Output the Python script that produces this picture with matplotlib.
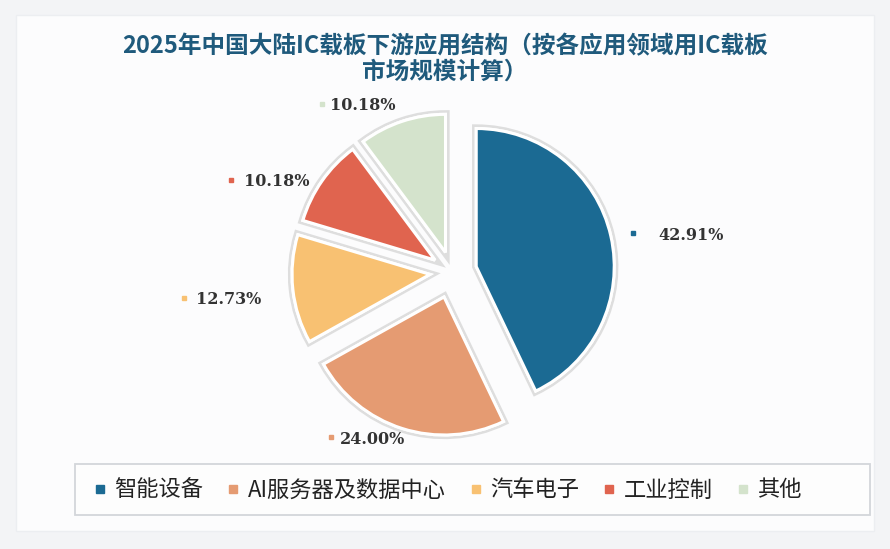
import matplotlib
matplotlib.use('Agg')
import matplotlib.pyplot as plt
from matplotlib import patheffects
from matplotlib.lines import Line2D
from matplotlib.patches import Rectangle
import numpy as np

plt.rcParams['font.family'] = ['Noto Sans CJK SC', 'DejaVu Sans']

# 数据
categories = ['智能设备', 'AI服务器及数据中心', '汽车电子', '工业控制', '其他']
shares = [42.91, 24.00, 12.73, 10.18, 10.18]
colors = ['#1b6a93', '#e59b72', '#f8c172', '#e0644f', '#d4e3cc']
explode = [0.18, 0.19, 0.16, 0.15, 0.15]   # 相对半径

title = '2025年中国大陆IC载板下游应用结构（按各应用领域用IC载板\n市场规模计算）'

# 标签位置（像素坐标，y 向下）
label_pos = [(633, 233), (331, 437), (184, 298), (231, 180), (322, 104)]
label_gap = [25, 9, 12, 13, 8]

W, H = 890, 549
fig = plt.figure(figsize=(W / 100, H / 100), dpi=100, facecolor='#f3f4f6')
ax = fig.add_axes([0, 0, 1, 1])

cx, cy, r = 452, H - 272, 138
# pie 的 explode 是绝对偏移量，这里按半径换算
wedges, _ = ax.pie(shares, colors=colors, explode=np.array(explode) * r, startangle=90,
                   counterclock=False, center=(cx, cy), radius=r,
                   wedgeprops=dict(edgecolor='white', linewidth=2.2))
for w in wedges:
    w.set_path_effects([patheffects.withStroke(linewidth=6, foreground='#dedede'),
                        patheffects.Normal()])
    w.set_zorder(3)

ax.set_xlim(0, W)
ax.set_ylim(0, H)
ax.set_aspect('equal')
ax.axis('off')

# 背景面板
ax.add_patch(Rectangle((16, 18), 858, 516, facecolor='#fcfcfd', edgecolor='#eceef1',
                       lw=1, zorder=0))

# 数据标签
for (x, y), gap, c, v in zip(label_pos, label_gap, colors, shares):
    ax.plot(x, H - y, marker='s', ms=3.5, color=c, mec=c, zorder=4)
    ax.text(x + gap, H - y - 2, '%.2f%%' % v, fontsize=11.5, fontweight='bold',
            family=['DejaVu Serif'], color='#333333', va='center', ha='left', zorder=4)

# 标题
ax.text(445, H - 59, title, fontsize=17, fontweight='bold', color='#1f5a7c',
        ha='center', va='center', linespacing=1.1)

# 图例框
ax.add_patch(Rectangle((75, H - 515), 795, 51, facecolor='#fdfdfd', edgecolor='#d3d6da',
                       lw=1.3, zorder=1))

# 图例
handles = [Line2D([], [], marker='s', ls='', ms=6, color=c) for c in colors]
leg = fig.legend(handles, categories, loc='center', ncol=5,
                 bbox_to_anchor=(447 / W, 1 - 490 / H), frameon=False,
                 fontsize=16, handlelength=0.7, handletextpad=0.3,
                 columnspacing=1.0, borderpad=0.3)
for t in leg.get_texts():
    t.set_color('#222222')

fig.savefig('out.png', dpi=100, facecolor=fig.get_facecolor())
